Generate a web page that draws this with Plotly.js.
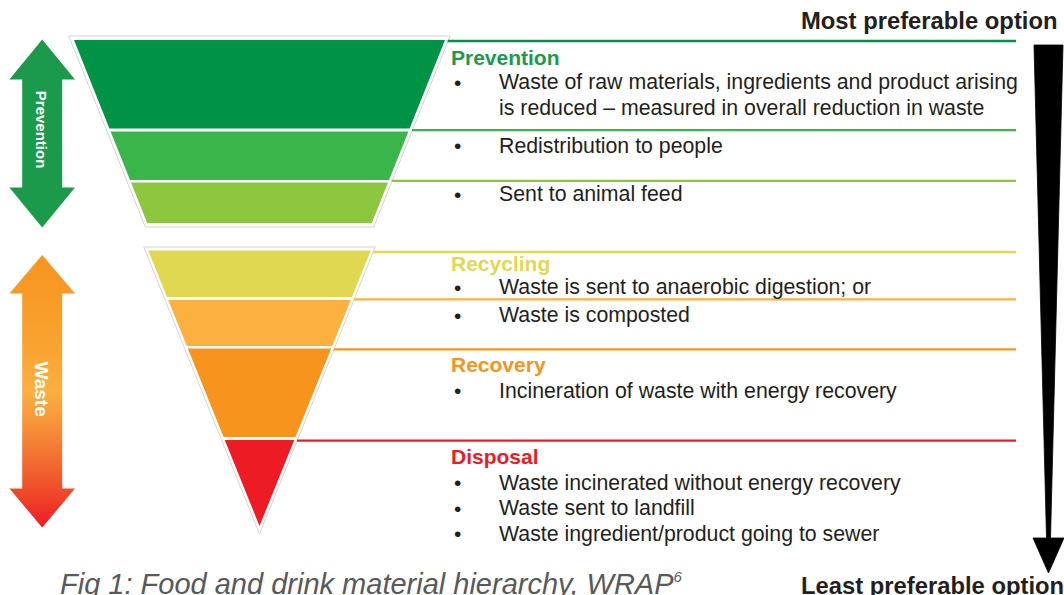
<!DOCTYPE html>
<html><head><meta charset="utf-8">
<script src="https://cdn.plot.ly/plotly-3.0.1.min.js"></script>
<style>html,body{margin:0;padding:0;background:#fff;overflow:hidden}#chart{width:1064px;height:595px}</style>
</head><body><div id="chart"></div>
<script>
// ---------------- DATA ----------------
const tierNames = ["Prevention", "Recycling", "Recovery", "Disposal"];
const tierColors = ["#1a9a4a", "#e1d852", "#f7941d", "#ed1c24"];
const bandNames = ["Reduce", "Redistribution", "Animal feed", "Anaerobic digestion", "Composting", "Energy recovery", "Disposal"];
const bandColors = ["#009245", "#39b54a", "#8dc63f", "#e1d852", "#fbb040", "#f7941d", "#ed1c24"];
const textLines = [
  "Prevention",
  "Waste of raw materials, ingredients and product arising",
  "is reduced \u2013 measured in overall reduction in waste",
  "Redistribution to people",
  "Sent to animal feed",
  "Recycling",
  "Waste is sent to anaerobic digestion; or",
  "Waste is composted",
  "Recovery",
  "Incineration of waste with energy recovery",
  "Disposal",
  "Waste incinerated without energy recovery",
  "Waste sent to landfill",
  "Waste ingredient/product going to sewer"
];
const textLineKind = ["head","bullet","cont","bullet","bullet","head","bullet","bullet","head","bullet","head","bullet","bullet","bullet"];
const textLineTier = [0,0,0,0,0,1,1,1,2,2,3,3,3,3];
const arrowLabels = ["Prevention", "Waste"];
const scaleLabels = ["Most preferable option", "Least preferable option"];
const captionText = "Fig 1: Food and drink material hierarchy, WRAP";
const captionNote = "6";

// ---------------- GEOMETRY (layout) ----------------
const CX = 259.5;
const topFunnel = {y0: 40, half0: 185.5, slope: 0.4};
const botFunnel = {apex: 526, slope: 0.404};
const bandTop    = [40, 131.5, 182.5, 250.5, 300, 348.5, 440];
const bandBottom = [128.5, 180, 223, 297, 346, 437, 526];
const bandInTop  = [true, true, true, false, false, false, false];
const lineY = [41, 130.2, 180.8, 252, 299.3, 349.3, 440.7];
const lineEndX = 1016;
const textLineY = [57, 82, 107.5, 145.5, 194, 263.5, 287, 315, 364.7, 390.5, 456, 482.5, 508, 533.5];

function halfW(isTop, y, pad) {
  pad = pad || 0;
  if (isTop) return topFunnel.half0 - topFunnel.slope * (y - topFunnel.y0) + pad;
  return Math.max(0, botFunnel.slope * (botFunnel.apex - y)) + pad;
}

const FONT = "Liberation Sans, Arial, Helvetica, sans-serif";
const traces = [];

// funnel outlines
function outline(isTop, yT, yB, pad) {
  const x = [CX - halfW(isTop, yT, pad), CX + halfW(isTop, yT, pad), CX + halfW(isTop, yB, pad), CX - halfW(isTop, yB, pad)];
  const y = [yT, yT, yB, yB];
  if (!isTop) { x.splice(2, 2, CX); y.splice(2, 2, yB); }
  x.push(x[0]); y.push(y[0]);
  traces.push({type: "scatter", mode: "lines", x: x, y: y, fill: "toself", fillcolor: "#ffffff",
    line: {color: "#d4d4d4", width: 1}, hoverinfo: "skip"});
}
outline(true, 36, 227, 3.5);
outline(false, 247, 534, 3);

// bands
bandNames.forEach((name, i) => {
  const t = bandTop[i], b = bandBottom[i], top = bandInTop[i];
  let x, y;
  if (!top && i === bandNames.length - 1) {
    x = [CX - halfW(top, t), CX + halfW(top, t), CX, CX - halfW(top, t)];
    y = [t, t, b, t];
  } else {
    x = [CX - halfW(top, t), CX + halfW(top, t), CX + halfW(top, b), CX - halfW(top, b), CX - halfW(top, t)];
    y = [t, t, b, b, t];
  }
  traces.push({type: "scatter", mode: "lines", name: name, x: x, y: y, fill: "toself",
    fillcolor: bandColors[i], line: {width: 0, color: bandColors[i]}, hoverinfo: "skip"});
});

// double arrows on the left
function dblArrow(yTip1, yBase1, yBase2, yTip2, fill) {
  const cx = 42.2, hw = 32.8, sw = 20;
  const x = [cx, cx + hw, cx + sw, cx + sw, cx + hw, cx, cx - hw, cx - sw, cx - sw, cx - hw, cx];
  const y = [yTip1, yBase1, yBase1, yBase2, yBase2, yTip2, yBase2, yBase2, yBase1, yBase1, yTip1];
  const tr = {type: "scatter", mode: "lines", x: x, y: y, fill: "toself", line: {width: 0}, hoverinfo: "skip"};
  Object.assign(tr, fill);
  traces.push(tr);
}
dblArrow(39.5, 79.5, 187.5, 227.5, {fillcolor: "#1a9a4a"});
dblArrow(255, 293.5, 488.5, 527.5, {fillcolor: "#f7941d",
  fillgradient: {type: "vertical", start: 255, stop: 527.5,
    colorscale: [[0, "#f7941d"], [0.35, "#f9a431"], [0.5, "#fbb040"], [0.65, "#f68b38"], [0.82, "#f05a2c"], [1, "#ed1c24"]]}});

// black preference arrow on the right
(function () {
  const cx = 1048.5;
  const x = [cx - 14.5, cx + 14.5, cx + 2, cx + 15.5, cx, cx - 15.5, cx - 2, cx - 14.5];
  const y = [45, 45, 538, 538, 573, 538, 538, 45];
  traces.push({type: "scatter", mode: "lines", x: x, y: y, fill: "toself", fillcolor: "#000000",
    line: {width: 0.8, color: "#000000"}, hoverinfo: "skip"});
})();

// horizontal level lines
const shapes = lineY.map((y, i) => ({
  type: "line", xref: "x", yref: "y",
  x0: CX + halfW(bandInTop[i], y, 3), x1: lineEndX, y0: y, y1: y,
  line: {color: bandColors[i], width: 2.3}
}));

// texts
const annotations = [];
function ann(o) {
  annotations.push(Object.assign({xref: "x", yref: "y", showarrow: false, borderpad: 0, borderwidth: 0}, o));
}
textLines.forEach((txt, i) => {
  const kind = textLineKind[i];
  if (kind === "head") {
    ann({x: 451, y: textLineY[i], xanchor: "left", yanchor: "middle",
      text: "<b>" + txt + "</b>", font: {family: FONT, size: 21, color: tierColors[textLineTier[i]]}});
  } else {
    if (kind === "bullet") {
      ann({x: 453.5, y: textLineY[i], xanchor: "left", yanchor: "middle",
        text: "\u2022", font: {family: FONT, size: 21, color: "#231f20"}});
    }
    ann({x: 499, y: textLineY[i], xanchor: "left", yanchor: "middle",
      text: txt, font: {family: FONT, size: 21.3, color: "#231f20"}});
  }
});
ann({x: 42.2, y: 130, xanchor: "center", yanchor: "middle", textangle: 90,
  text: "<b>" + arrowLabels[0] + "</b>", font: {family: FONT, size: 15, color: "#ffffff"}});
ann({x: 41.5, y: 389, xanchor: "center", yanchor: "middle", textangle: 90,
  text: "<b>" + arrowLabels[1] + "</b>", font: {family: FONT, size: 19, color: "#ffffff"}});
ann({x: 1058, y: 20.3, xanchor: "right", yanchor: "middle",
  text: "<b>" + scaleLabels[0] + "</b>", font: {family: FONT, size: 23.8, color: "#231f20"}});
ann({x: 801, y: 585.6, xanchor: "left", yanchor: "middle",
  text: "<b>" + scaleLabels[1] + "</b>", font: {family: FONT, size: 23.8, color: "#231f20"}});
ann({x: 60, y: 584, xanchor: "left", yanchor: "middle",
  text: "<i>" + captionText + "<sup><span style=\"font-size:15px\">" + captionNote + "</span></sup></i>",
  font: {family: FONT, size: 29, color: "#58595b"}});

const layout = {
  width: 1064, height: 595,
  margin: {l: 0, r: 0, t: 0, b: 0, pad: 0},
  paper_bgcolor: "#ffffff", plot_bgcolor: "#ffffff",
  showlegend: false,
  xaxis: {range: [0, 1064], visible: false, fixedrange: true},
  yaxis: {range: [595, 0], visible: false, fixedrange: true},
  shapes: shapes,
  annotations: annotations
};
Plotly.newPlot("chart", traces, layout, {staticPlot: true, displayModeBar: false});
</script>
</body></html>
